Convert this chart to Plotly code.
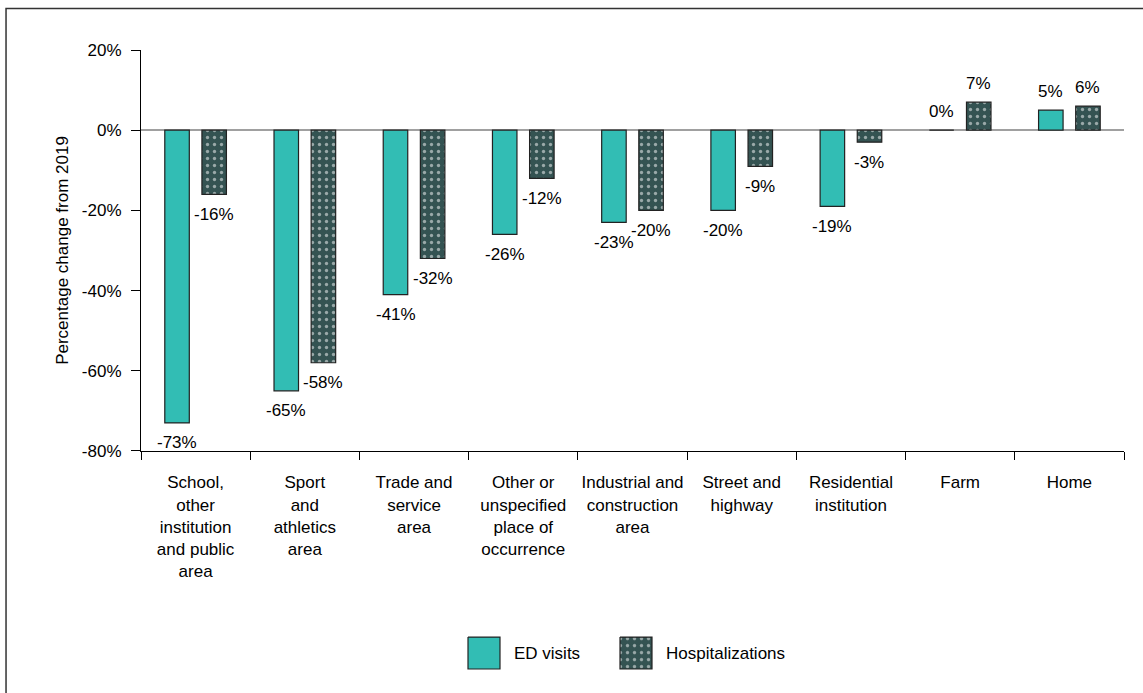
import plotly.graph_objects as go

categories = [
    "School,<br>other<br>institution<br>and public<br>area",
    "Sport<br>and<br>athletics<br>area",
    "Trade and<br>service<br>area",
    "Other or<br>unspecified<br>place of<br>occurrence",
    "Industrial and<br>construction<br>area",
    "Street and<br>highway",
    "Residential<br>institution",
    "Farm",
    "Home",
]
ed_visits = [-73, -65, -41, -26, -23, -20, -19, 0, 5]
hospitalizations = [-16, -58, -32, -12, -20, -9, -3, 7, 6]
y_ticks = [-80, -60, -40, -20, 0, 20]

FONT = "Liberation Sans, Arial, sans-serif"
TEAL = "#32BDB4"
DARK = "#345352"
EDGE = "#222222"
DOTS = dict(shape=".", fgcolor="white", bgcolor=DARK, size=7, solidity=0.18)

fig = go.Figure()

fig.add_trace(go.Bar(
    name="ED visits", x=categories, y=ed_visits,
    marker=dict(color=TEAL, line=dict(color=EDGE, width=1.2)),
    showlegend=False,
))
fig.add_trace(go.Bar(
    name="Hospitalizations", x=categories, y=hospitalizations,
    marker=dict(color=DARK, line=dict(color=EDGE, width=1.2), pattern=DOTS),
    showlegend=False,
))

# value labels, set a little away from the bar ends
for series, shift in ((ed_visits, -18.5), (hospitalizations, 18.5)):
    for cat, v in zip(categories, series):
        fig.add_annotation(
            x=cat, y=v, text=f"{v}%", showarrow=False,
            xshift=shift, yshift=-20 if v < 0 else 19, yanchor="middle",
            font=dict(size=17, family=FONT, color="black"),
        )

# hand-drawn legend with large swatches, in a helper axis laid out in pixels
def swatch(x0, color, pattern=None):
    x1 = x0 + 32
    fig.add_trace(go.Scatter(
        x=[x0, x1, x1, x0, x0], y=[637, 637, 669, 669, 637],
        mode="lines", fill="toself", fillcolor=color,
        fillpattern=pattern, line=dict(color=EDGE, width=1.2),
        xaxis="x2", yaxis="y2", hoverinfo="skip", showlegend=False,
    ))

swatch(468, TEAL)
swatch(620, DARK, DOTS)
fig.add_annotation(x=512, y=653, xref="x2", yref="y2", text="ED visits",
                   showarrow=False, xanchor="left", font=dict(size=17, family=FONT, color="black"))
fig.add_annotation(x=664, y=653, xref="x2", yref="y2", text="Hospitalizations",
                   showarrow=False, xanchor="left", font=dict(size=17, family=FONT, color="black"))

# outer frame
fig.add_shape(type="rect", xref="paper", yref="paper",
              x0=-0.1373, x1=1.2, y0=-0.2, y1=1.066,
              line=dict(color="#333333", width=1.5))

fig.update_layout(
    width=1143, height=693,
    margin=dict(l=141, r=19, t=50, b=15, autoexpand=False),
    plot_bgcolor="white", paper_bgcolor="white",
    font=dict(family=FONT, size=17, color="black"),
    barmode="group", bargap=0.32, bargroupgap=0.34,
    xaxis=dict(
        range=[-0.5, 8.5], showline=True, linecolor="black", linewidth=1.2,
        ticks="outside", tickson="boundaries", ticklen=8, tickcolor="black",
        tickangle=0, tickfont=dict(size=17), ticklabelstandoff=16,
        showgrid=False, anchor="y", automargin=False,
    ),
    yaxis=dict(
        domain=[0.3615, 1], range=[-80, 20], tickvals=y_ticks,
        ticktext=[f"{v}%" for v in y_ticks],
        showline=True, linecolor="black", linewidth=1.2,
        ticks="outside", ticklen=9, tickcolor="black", ticklabelstandoff=6,
        showgrid=False, zeroline=True, zerolinecolor="#A0A0A0", zerolinewidth=1.5,
        title=dict(text="Percentage change from 2019", font=dict(size=17), standoff=8),
        automargin=False,
    ),
    xaxis2=dict(domain=[0, 1], range=[141, 1124], visible=False, anchor="y2", automargin=False),
    yaxis2=dict(domain=[0, 0.124], range=[678, 600], visible=False, anchor="x2", automargin=False),
)

fig.write_html("out.html", config={"displayModeBar": False},
               post_script="document.body.style.margin='0';")
